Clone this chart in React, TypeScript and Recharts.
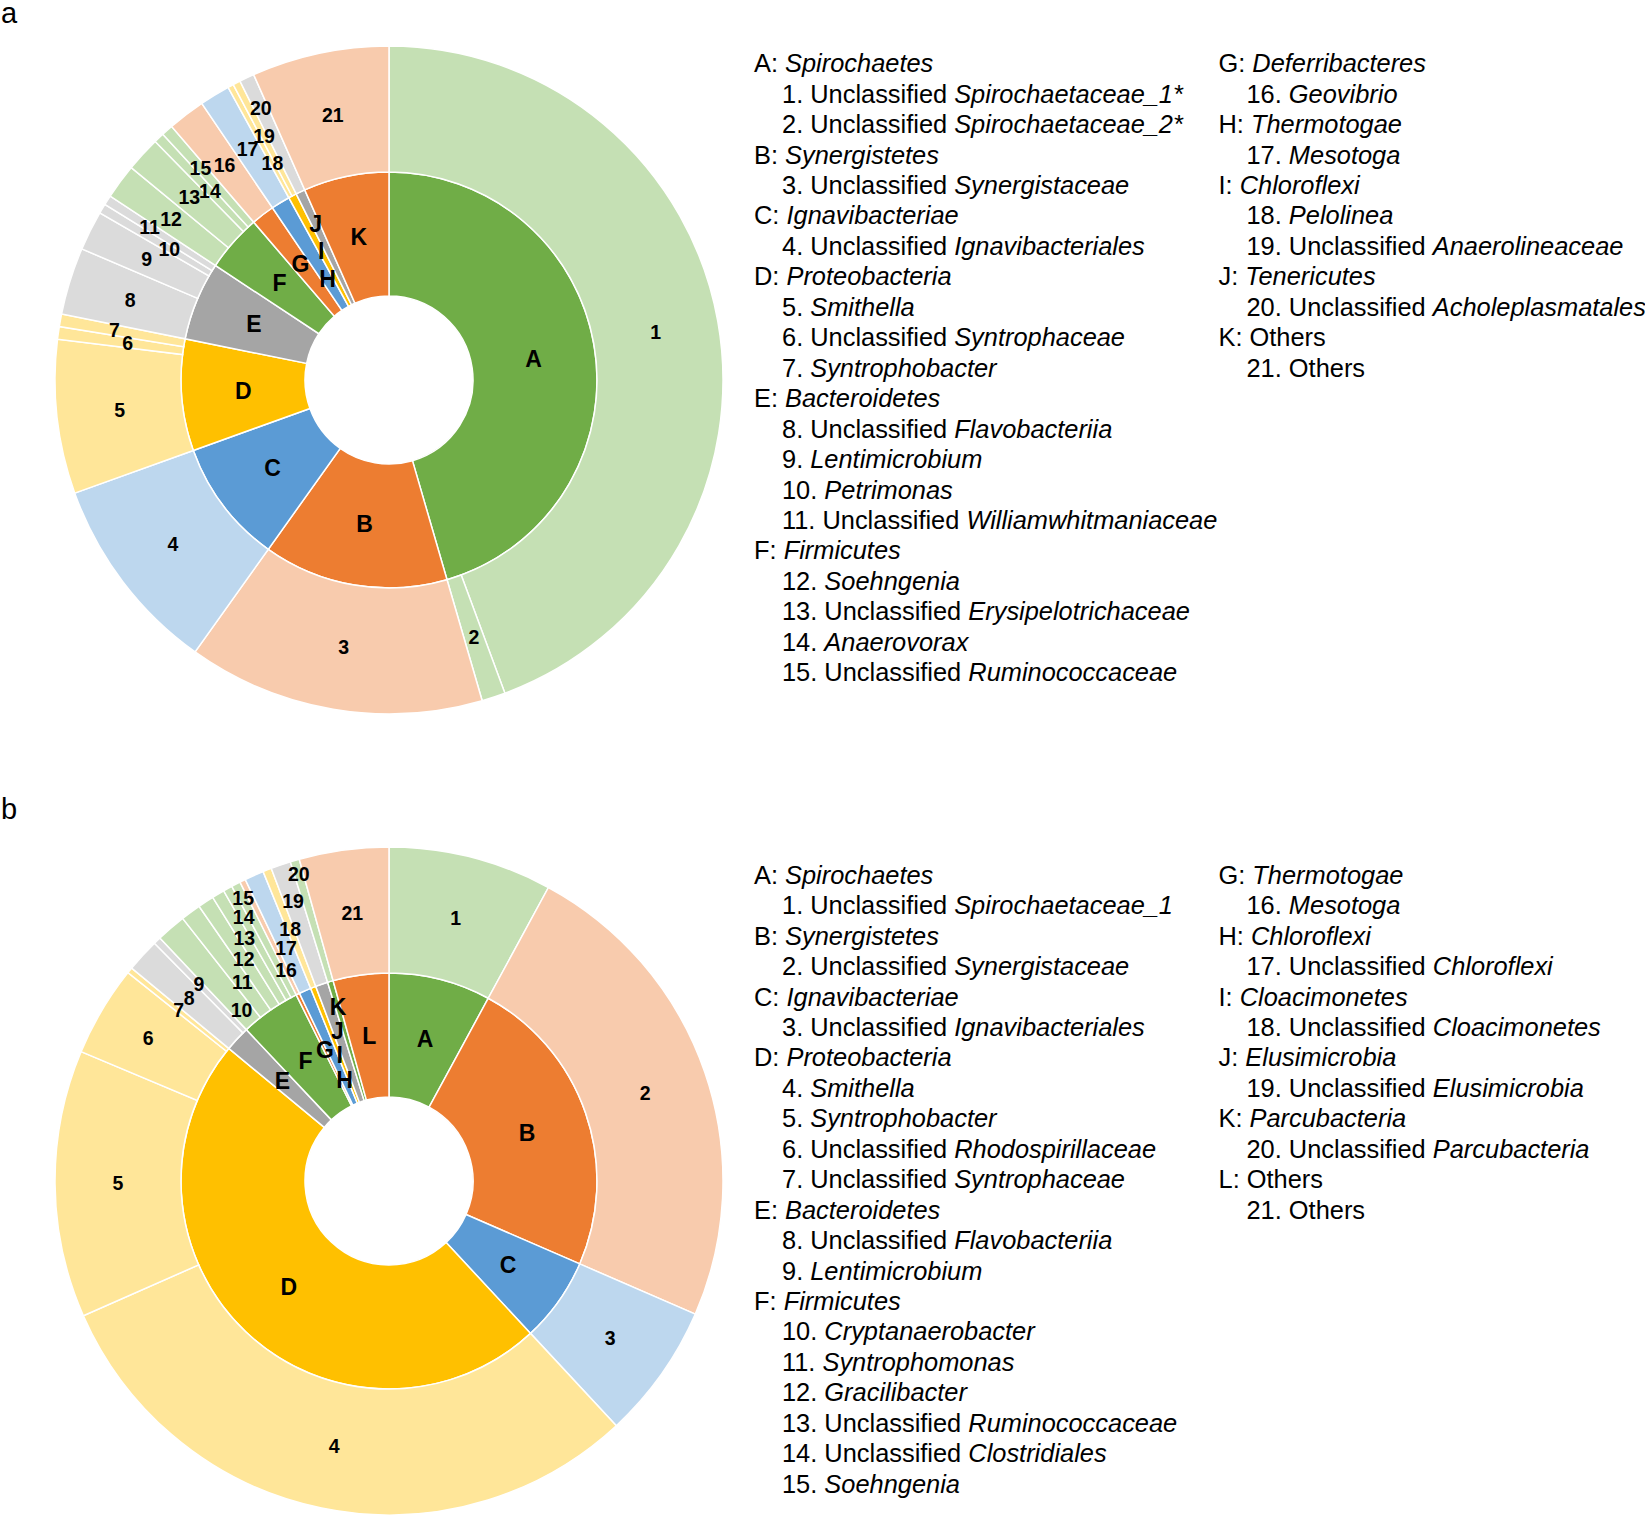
import React from 'react';
import { PieChart, Pie, Cell } from 'recharts';

const FONT = '"Liberation Sans", Arial, Helvetica, sans-serif';

// ---- panel a ----
const phylumCodesA = ['A', 'B', 'C', 'D', 'E', 'F', 'G', 'H', 'I', 'J', 'K'];
const phylumNamesA = ['Spirochaetes', 'Synergistetes', 'Ignavibacteriae', 'Proteobacteria', 'Bacteroidetes', 'Firmicutes', 'Deferribacteres', 'Thermotogae', 'Chloroflexi', 'Tenericutes', 'Others'];
const phylumValuesA = [45.5, 14.36, 9.64, 8.67, 6.11, 4.44, 1.81, 1.47, 0.64, 0.72, 6.64];
const genusNamesA = [
  'Unclassified Spirochaetaceae_1*', 'Unclassified Spirochaetaceae_2*', 'Unclassified Synergistaceae',
  'Unclassified Ignavibacteriales', 'Smithella', 'Unclassified Syntrophaceae', 'Syntrophobacter',
  'Unclassified Flavobacteriia', 'Lentimicrobium', 'Petrimonas', 'Unclassified Williamwhitmaniaceae',
  'Soehngenia', 'Unclassified Erysipelotrichaceae', 'Anaerovorax', 'Unclassified Ruminococcaceae',
  'Geovibrio', 'Mesotoga', 'Pelolinea', 'Unclassified Anaerolineaceae', 'Unclassified Acholeplasmatales', 'Others',
];
const genusParentA = ['A', 'A', 'B', 'C', 'D', 'D', 'D', 'E', 'E', 'E', 'E', 'F', 'F', 'F', 'F', 'G', 'H', 'I', 'I', 'J', 'K'];
const genusValuesA = [44.36, 1.14, 14.36, 9.64, 7.45, 0.61, 0.61, 3.25, 1.92, 0.47, 0.47, 1.69, 1.69, 0.5, 0.56, 1.81, 1.47, 0.28, 0.36, 0.72, 6.64];

// ---- panel b ----
const phylumCodesB = ['A', 'B', 'C', 'D', 'E', 'F', 'G', 'H', 'I', 'J', 'K', 'L'];
const phylumNamesB = ['Spirochaetes', 'Synergistetes', 'Ignavibacteriae', 'Proteobacteria', 'Bacteroidetes', 'Firmicutes', 'Thermotogae', 'Chloroflexi', 'Cloacimonetes', 'Elusimicrobia', 'Parcubacteria', 'Others'];
const phylumValuesB = [7.92, 23.61, 6.56, 47.92, 1.97, 4.67, 0.28, 0.93, 0.42, 0.96, 0.44, 4.33];
const genusNamesB = [
  'Unclassified Spirochaetaceae_1', 'Unclassified Synergistaceae', 'Unclassified Ignavibacteriales',
  'Smithella', 'Syntrophobacter', 'Unclassified Rhodospirillaceae', 'Unclassified Syntrophaceae',
  'Unclassified Flavobacteriia', 'Lentimicrobium', 'Cryptanaerobacter', 'Syntrophomonas', 'Gracilibacter',
  'Unclassified Ruminococcaceae', 'Unclassified Clostridiales', 'Soehngenia', 'Mesotoga',
  'Unclassified Chloroflexi', 'Unclassified Cloacimonetes', 'Unclassified Elusimicrobia', 'Unclassified Parcubacteria', 'Others',
];
const genusParentB = ['A', 'B', 'C', 'D', 'D', 'D', 'D', 'E', 'E', 'F', 'F', 'F', 'F', 'F', 'F', 'G', 'H', 'I', 'J', 'K', 'L'];
const genusValuesB = [7.92, 23.61, 6.56, 30.31, 12.94, 4.39, 0.28, 1.61, 0.36, 1.43, 0.97, 0.78, 0.61, 0.44, 0.44, 0.28, 0.93, 0.42, 0.96, 0.44, 4.33];

// colours (dark for phylum ring, light for genus ring)
const GREEN = ['#70AD47', '#C5E0B4'];
const ORANGE = ['#ED7D31', '#F8CBAD'];
const BLUE = ['#5B9BD5', '#BDD7EE'];
const YELLOW = ['#FFC000', '#FFE699'];
const GRAY = ['#A5A5A5', '#DBDBDB'];
const paletteA = [GREEN, ORANGE, BLUE, YELLOW, GRAY, GREEN, ORANGE, BLUE, YELLOW, GRAY, ORANGE];
const paletteB = [GREEN, ORANGE, BLUE, YELLOW, GRAY, GREEN, ORANGE, BLUE, YELLOW, GRAY, GREEN, ORANGE];

// label radius tweaks for the crowded thin slices
const innerLabelRA: Record<string, number> = { H: 118, J: 172 };
const outerLabelRA: Record<string, number> = { '6': 264, '7': 279, '10': 256, '11': 284, '14': 260, '15': 284, '18': 246, '19': 274, '20': 301 };
const innerLabelRB: Record<string, number> = { H: 110, I: 135, J: 159, K: 181 };
const outerLabelRB: Record<string, number> = {
  '6': 280, '9': 274, '10': 226, '11': 247, '12': 265, '13': 283, '14': 301, '15': 318,
  '16': 235, '17': 255, '19': 296, '20': 320,
};

const HOLE = 84;
const MID = 208;
const OUTER = 334;

const makeLabel = (labels: string[], radii: Record<string, number>, size: number) => (props: any) => {
  const { cx, cy, midAngle, innerRadius, outerRadius, index } = props;
  const text = labels[index];
  const r = radii[text] ?? (innerRadius + outerRadius) / 2;
  const a = (-midAngle * Math.PI) / 180;
  return (
    <text
      key={`lbl-${index}`}
      x={cx + r * Math.cos(a)}
      y={cy + r * Math.sin(a)}
      textAnchor="middle"
      dominantBaseline="central"
      fontFamily={FONT}
      fontWeight="bold"
      fontSize={size}
      fill="#000"
    >
      {text}
    </text>
  );
};

const Taxon = ({ text }: { text: string }) => {
  if (text === 'Others') return <span>Others</span>;
  if (text.startsWith('Unclassified ')) {
    return (
      <span>
        Unclassified <i>{text.slice(13)}</i>
      </span>
    );
  }
  return <i>{text}</i>;
};

interface RingsProps {
  cy: number;
  codes: string[];
  values: number[];
  palette: string[][];
  genusValues: number[];
  genusParent: string[];
  innerR: Record<string, number>;
  outerR: Record<string, number>;
}

const rings = ({ cy, codes, values, palette, genusValues, genusParent, innerR, outerR }: RingsProps, key: string) => {
  const inner = codes.map((c, i) => ({ name: c, value: values[i] }));
  const outer = genusValues.map((v, i) => ({ name: String(i + 1), value: v }));
  const nums = outer.map((d) => d.name);
  return [
    <Pie
      key={`${key}-in`}
      data={inner}
      dataKey="value"
      nameKey="name"
      cx={389}
      cy={cy}
      innerRadius={HOLE}
      outerRadius={MID}
      startAngle={90}
      endAngle={-270}
      stroke="#fff"
      strokeWidth={1.5}
      isAnimationActive={false}
      labelLine={false}
      label={makeLabel(codes, innerR, 23)}
    >
      {inner.map((_d, i) => (
        <Cell key={`ci-${i}`} fill={palette[i][0]} />
      ))}
    </Pie>,
    <Pie
      key={`${key}-out`}
      data={outer}
      dataKey="value"
      nameKey="name"
      cx={389}
      cy={cy}
      innerRadius={MID}
      outerRadius={OUTER}
      startAngle={90}
      endAngle={-270}
      stroke="#fff"
      strokeWidth={1.5}
      isAnimationActive={false}
      labelLine={false}
      label={makeLabel(nums, outerR, 19.5)}
    >
      {outer.map((_d, i) => (
        <Cell key={`co-${i}`} fill={palette[codes.indexOf(genusParent[i])][1]} />
      ))}
    </Pie>,
  ];
};

const LINE = 30.45;

const Legend = ({ top, codes, names, genusNames, genusParent }: { top: number; codes: string[]; names: string[]; genusNames: string[]; genusParent: string[] }) => {
  const buildLines = (from: number, to: number) => {
    const lines: React.ReactNode[] = [];
    for (let p = from; p < to; p++) {
      lines.push(
        <div key={`p${p}`}>
          {codes[p]}: <Taxon text={names[p]} />
        </div>
      );
      genusNames.forEach((g, i) => {
        if (genusParent[i] === codes[p]) {
          lines.push(
            <div key={`g${i}`} style={{ paddingLeft: 28 }}>
              {i + 1}. <Taxon text={g} />
            </div>
          );
        }
      });
    }
    return lines;
  };
  const colStyle: React.CSSProperties = {
    position: 'absolute',
    top,
    fontFamily: FONT,
    fontSize: 25.4,
    lineHeight: `${LINE}px`,
    color: '#000',
    whiteSpace: 'nowrap',
  };
  return (
    <>
      <div style={{ ...colStyle, left: 754 }}>{buildLines(0, 6)}</div>
      <div style={{ ...colStyle, left: 1218.5 }}>{buildLines(6, codes.length)}</div>
    </>
  );
};

export default function App() {
  const panelLetter: React.CSSProperties = { position: 'absolute', left: 1, fontFamily: FONT, fontSize: 29, lineHeight: '20px' };
  return (
    <div style={{ position: 'absolute', left: 0, top: 0, width: 1645, height: 1515, background: '#fff', overflow: 'hidden' }}>
      <div style={{ ...panelLetter, top: 3 }}>a</div>
      <div style={{ ...panelLetter, top: 799 }}>b</div>
      <div style={{ position: 'absolute', left: 0, top: 0 }}>
        <PieChart width={740} height={1515} margin={{ top: 0, right: 0, bottom: 0, left: 0 }}>
          {rings(
            { cy: 380, codes: phylumCodesA, values: phylumValuesA, palette: paletteA, genusValues: genusValuesA, genusParent: genusParentA, innerR: innerLabelRA, outerR: outerLabelRA },
            'a'
          )}
          {rings(
            { cy: 1181, codes: phylumCodesB, values: phylumValuesB, palette: paletteB, genusValues: genusValuesB, genusParent: genusParentB, innerR: innerLabelRB, outerR: outerLabelRB },
            'b'
          )}
        </PieChart>
      </div>
      <Legend top={48.2} codes={phylumCodesA} names={phylumNamesA} genusNames={genusNamesA} genusParent={genusParentA} />
      <Legend top={859.7} codes={phylumCodesB} names={phylumNamesB} genusNames={genusNamesB} genusParent={genusParentB} />
    </div>
  );
}
